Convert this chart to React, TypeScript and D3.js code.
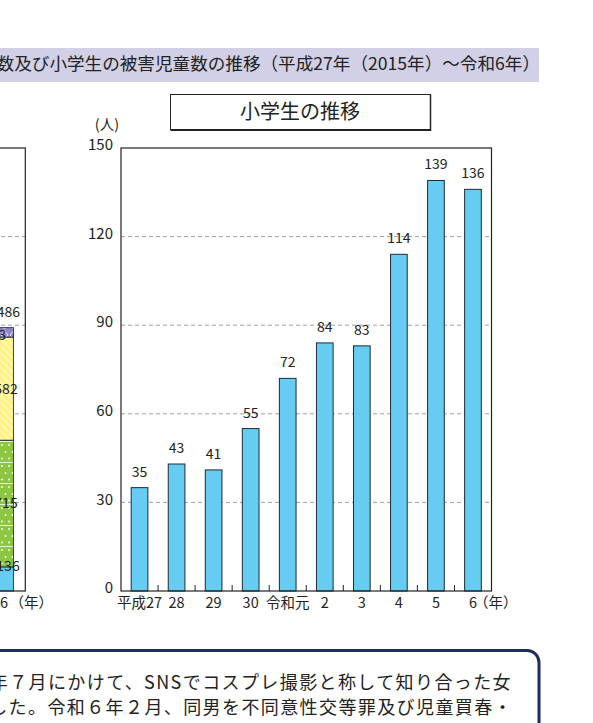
import React from "react";
import * as d3 from "d3";

// Right chart: 小学生の推移
const categories = ["平成27", "28", "29", "30", "令和元", "2", "3", "4", "5", "6"];
const values = [35, 43, 41, 55, 72, 84, 83, 114, 139, 136];
const yTicks = [0, 30, 60, 90, 120, 150];

// Left (cut-off) stacked chart, last year only
const leftSegments = [
  { key: "elem", value: 136 },
  { key: "junior", value: 715 },
  { key: "high", value: 582 },
  { key: "other", value: 53 },
];
const leftTotalLabel = "1,486";
const leftTicks = [0, 500, 1000, 1500, 2000, 2500];

const bannerText = "数及び小学生の被害児童数の推移（平成27年（2015年）～令和6年）";
const noteLine1 = "年７月にかけて、SNSでコスプレ撮影と称して知り合った女";
const noteLine2 = "した。令和６年２月、同男を不同意性交等罪及び児童買春・";

const FONT = "'Noto Sans CJK JP', 'Noto Sans', sans-serif";

export default function App() {
  const W = 593, H = 723;
  const plot = { left: 121, right: 491.5, top: 148, bottom: 591 };

  const x = d3.scaleBand<string>().domain(categories).range([plot.left, plot.right]).paddingInner(0.55).paddingOuter(0.275);
  const y = d3.scaleLinear().domain([0, 150]).range([plot.bottom, plot.top]);
  const step = x.step();

  const yl = d3.scaleLinear().domain([0, 2500]).range([plot.bottom, plot.top]);
  const leftCenter = 5;
  const leftW = 16.8;
  let acc = 0;
  const stacks = leftSegments.map((s) => {
    const y0 = acc;
    acc += s.value;
    return { ...s, y0, y1: acc };
  });
  const fills: Record<string, string> = {
    elem: "#66CCF2",
    junior: "url(#pGreen)",
    high: "url(#pYellow)",
    other: "url(#pPurple)",
  };

  return (
    <svg width={W} height={H} style={{ position: "absolute", left: 0, top: 0, background: "#fff" }} fontFamily={FONT}>
      <defs>
        <pattern id="pGreen" patternUnits="userSpaceOnUse" width="7" height="21">
          <rect width="7" height="21" fill="#8DC641" />
          <line x1="0" x2="7" y1="0.5" y2="0.5" stroke="#fff" strokeWidth="0.8" />
          <circle cx="2" cy="4" r="0.9" fill="#fff" />
          <circle cx="5.5" cy="11" r="0.9" fill="#fff" />
          <circle cx="2" cy="17.5" r="0.9" fill="#fff" />
        </pattern>
        <pattern id="pYellow" patternUnits="userSpaceOnUse" width="5" height="5" patternTransform="rotate(-45)">
          <rect width="5" height="5" fill="#FFF27E" />
          <rect width="1.6" height="5" fill="#FFF9C4" />
        </pattern>
        <pattern id="pPurple" patternUnits="userSpaceOnUse" width="9" height="10">
          <rect width="9" height="10" fill="#8D88CA" />
          <path d="M4.5 1 L8 5 L4.5 9 L1 5 Z" fill="none" stroke="#fff" strokeWidth="0.8" />
        </pattern>
      </defs>

      {/* Banner */}
      <rect x={-10} y={48} width={549} height={34} fill="#D2D0E6" />
      <text x={540} y={64} dy="0.35em" textAnchor="end" fontSize={17.6} fill="#222">{bannerText}</text>

      {/* Left partial chart */}
      {leftTicks.slice(1, -1).map((t) => (
        <line key={"lg" + t} x1={-20} x2={25.3} y1={yl(t)} y2={yl(t)} stroke="#888" strokeDasharray="4,3" strokeWidth={0.8} />
      ))}
      {stacks.map((s) => (
        <rect key={s.key} x={leftCenter - leftW / 2} y={yl(s.y1)} width={leftW} height={yl(s.y0) - yl(s.y1)} fill={fills[s.key]} stroke="#1d2a36" strokeWidth={0.9} />
      ))}
      <rect x={-20} y={plot.top} width={45.3} height={plot.bottom - plot.top} fill="none" stroke="#222" strokeWidth={1.2} />
      {stacks.map((s) => {
        let cy = (yl(s.y0) + yl(s.y1)) / 2;
        let cx = leftCenter + 1;
        let anchor: "middle" | "end" = "middle";
        if (s.key === "elem") { cy = yl(s.y1) - 1; cx = leftCenter + 3; }
        if (s.key === "other") { cx = leftCenter + 1; anchor = "end"; cy = cy + 3; }
        return (
          <text key={"ll" + s.key} x={cx} y={cy} dy="0.35em" textAnchor={anchor} fontSize={14} fill="#222">{s.value}</text>
        );
      })}
      <text x={leftCenter - 2.5} y={yl(acc) - 11} textAnchor="middle" fontSize={14} fill="#222">{leftTotalLabel}</text>
      <text x={leftCenter - 1} y={603} dy="0.35em" textAnchor="middle" fontSize={14.5} fill="#222">6</text>
      <text x={9.5} y={603} dy="0.35em" fontSize={14.5} fill="#222">（年）</text>

      {/* Title box */}
      <rect x={170.5} y={94.5} width={260} height={35} fill="#fff" stroke="#222" strokeWidth={1} />
      <line x1={170.5} x2={431} y1={130} y2={130} stroke="#222" strokeWidth={2} />
      <line x1={430.5} x2={430.5} y1={94.5} y2={131} stroke="#222" strokeWidth={1.5} />
      <text x={300} y={112} dy="0.35em" textAnchor="middle" fontSize={20} fill="#222">小学生の推移</text>

      {/* Unit */}
      <text x={107} y={125} dy="0.35em" textAnchor="middle" fontSize={14.5} fill="#222">(人)</text>

      {/* Gridlines */}
      {yTicks.slice(1, -1).map((t) => (
        <line key={"g" + t} x1={plot.left} x2={plot.right} y1={y(t)} y2={y(t)} stroke="#888" strokeDasharray="4,3" strokeWidth={0.8} />
      ))}

      {/* Bars */}
      {categories.map((c, i) => (
        <rect key={c} x={x(c)!} y={y(values[i])} width={x.bandwidth()} height={y(0) - y(values[i])} fill="#66CCF2" stroke="#1d2a36" strokeWidth={1} />
      ))}
      {categories.map((c, i) => (
        <text key={"v" + c} x={x(c)! + x.bandwidth() / 2} y={y(values[i]) - 11} textAnchor="middle" fontSize={14} fill="#222">{values[i]}</text>
      ))}

      {/* Frame */}
      <rect x={plot.left} y={plot.top} width={plot.right - plot.left} height={plot.bottom - plot.top} fill="none" stroke="#222" strokeWidth={1.2} />

      {/* Category boundary ticks */}
      {categories.slice(1).map((c) => {
        const bx = x(c)! - (step - x.bandwidth()) / 2;
        return <line key={"t" + c} x1={bx} x2={bx} y1={plot.bottom} y2={plot.bottom - 6} stroke="#222" strokeWidth={1} />;
      })}

      {/* Y tick labels */}
      {yTicks.map((t) => (
        <text key={"yl" + t} x={113} y={y(t) - 3} dy="0.35em" textAnchor="end" fontSize={15} fill="#222">{t}</text>
      ))}

      {/* X labels */}
      {categories.map((c) => (
        <text key={"xl" + c} x={x(c)! + x.bandwidth() / 2} y={603} dy="0.35em" textAnchor="middle" fontSize={14.5} fill="#222">{c}</text>
      ))}
      <text x={x("6")! + x.bandwidth() / 2 + 1} y={603} dy="0.35em" fontSize={14.5} fill="#222">（年）</text>

      {/* Bottom note box */}
      <rect x={-20} y={650.5} width={559} height={120} rx={12} fill="#fff" stroke="#1F2A5E" strokeWidth={3} />
      <text x={512} y={683} dy="0.35em" textAnchor="end" fontSize={18} letterSpacing={1.4} fill="#222">{noteLine1}</text>
      <text x={513} y={708} dy="0.35em" textAnchor="end" fontSize={18} letterSpacing={1.4} fill="#222">{noteLine2}</text>
    </svg>
  );
}
